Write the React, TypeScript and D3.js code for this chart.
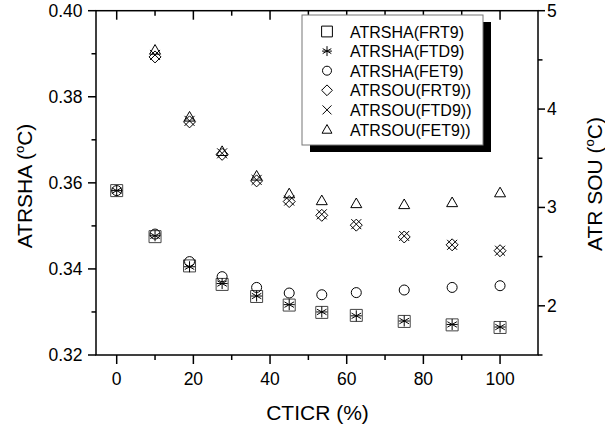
import React, { useEffect, useRef } from "react";
import * as d3 from "d3";

const xVals = [0, 10, 19, 27.5, 36.5, 45, 53.5, 62.5, 75, 87.5, 100];
const souX = xVals.slice(1);

const shaFRT9 = [0.3582, 0.3475, 0.3407, 0.3364, 0.3336, 0.3316, 0.3299, 0.3292, 0.3278, 0.327, 0.3264];
const shaFTD9 = [0.3582, 0.3477, 0.3405, 0.3366, 0.3337, 0.3317, 0.33, 0.3291, 0.3279, 0.3271, 0.3265];
const shaFET9 = [0.3582, 0.3481, 0.3417, 0.3382, 0.3357, 0.3344, 0.334, 0.3345, 0.3351, 0.3357, 0.3361];

const souFRT9 = [4.53, 3.87, 3.54, 3.27, 3.06, 2.92, 2.82, 2.7, 2.62, 2.56];
const souFTD9 = [4.55, 3.88, 3.55, 3.28, 3.07, 2.93, 2.83, 2.71, 2.62, 2.56];
const souFET9 = [4.6, 3.92, 3.57, 3.32, 3.14, 3.07, 3.04, 3.03, 3.05, 3.15];

const xTicks = [0, 20, 40, 60, 80, 100];
const xMinor = [10, 30, 50, 70, 90];
const leftTicks = [0.32, 0.34, 0.36, 0.38, 0.4];
const leftMinor = [0.33, 0.35, 0.37, 0.39];
const rightTicks = [2, 3, 4, 5];
const rightMinor = [1.5, 2.5, 3.5, 4.5];

const legendLabels = ["ATRSHA(FRT9)", "ATRSHA(FTD9)", "ATRSHA(FET9)", "ATRSOU(FRT9))", "ATRSOU(FTD9))", "ATRSOU(FET9))"];

const FONT = "'Liberation Sans', Arial, sans-serif";

// marker paths centred on 0,0
const marker = (kind: string, k = 1) => {
  const p = d3.path();
  if (kind === "square") {
    const h = 6 * k;
    p.rect(-h, -h, 2 * h, 2 * h);
  } else if (kind === "circle") {
    const r = 5 * k;
    p.moveTo(r, 0);
    p.arc(0, 0, r, 0, Math.PI * 2);
  } else if (kind === "diamond") {
    const h = 6 * k;
    p.moveTo(0, -h); p.lineTo(h, 0); p.lineTo(0, h); p.lineTo(-h, 0); p.closePath();
  } else if (kind === "triangle") {
    const h = 5.5 * k;
    p.moveTo(0, -h); p.lineTo(h, h * 0.75); p.lineTo(-h, h * 0.75); p.closePath();
  } else if (kind === "cross") {
    const h = 5 * k;
    p.moveTo(-h, -h); p.lineTo(h, h); p.moveTo(h, -h); p.lineTo(-h, h);
  } else if (kind === "star") {
    const r = 5.5 * k;
    for (let i = 0; i < 3; i++) {
      const a = Math.PI / 2 + (i * Math.PI) / 3;
      p.moveTo(r * Math.cos(a), r * Math.sin(a));
      p.lineTo(-r * Math.cos(a), -r * Math.sin(a));
    }
    p.moveTo(-r, 0); p.lineTo(r, 0);
  }
  return p.toString();
};

const App = () => {
  const ref = useRef<SVGSVGElement | null>(null);

  useEffect(() => {
    const left = 96, right = 538, top = 10.7, bottom = 355;
    const svg = d3.select(ref.current);
    svg.selectAll("*").remove();

    const x = d3.scaleLinear().domain([-5.4, 109.9]).range([left, right]);
    const yL = d3.scaleLinear().domain([0.32, 0.4]).range([bottom, top]);
    const yR = d3.scaleLinear().domain([1.5, 5]).range([bottom, top]);

    const g = svg.append("g").attr("font-family", FONT).attr("fill", "#000");

    // ticks
    const tick = (x1: number, y1: number, x2: number, y2: number) =>
      g.append("line").attr("x1", x1).attr("y1", y1).attr("x2", x2).attr("y2", y2)
        .attr("stroke", "#000").attr("stroke-width", 1.5);

    xTicks.forEach(v => { tick(x(v), bottom, x(v), bottom + 9); tick(x(v), top, x(v), top + 9); });
    xMinor.forEach(v => { tick(x(v), bottom, x(v), bottom + 5); tick(x(v), top, x(v), top + 5); });
    leftTicks.forEach(v => tick(left - 8, yL(v), left, yL(v)));
    leftMinor.forEach(v => tick(left - 4.5, yL(v), left, yL(v)));
    rightTicks.forEach(v => tick(right, yR(v), right + 7, yR(v)));
    rightMinor.forEach(v => tick(right, yR(v), right + 4.5, yR(v)));

    // frame
    g.append("rect").attr("x", left).attr("y", top).attr("width", right - left).attr("height", bottom - top)
      .attr("fill", "none").attr("stroke", "#000").attr("stroke-width", 1.5);

    // tick labels
    g.selectAll(".xl").data(xTicks).join("text")
      .attr("x", d => x(d)).attr("y", 385).attr("text-anchor", "middle").attr("font-size", 17.5)
      .text(d => d);
    g.selectAll(".ll").data(leftTicks).join("text")
      .attr("x", 82.5).attr("y", d => yL(d) + 6).attr("text-anchor", "end").attr("font-size", 17.5)
      .text(d => d3.format(".2f")(d));
    g.selectAll(".rl").data(rightTicks).join("text")
      .attr("x", 547).attr("y", d => yR(d) + 6).attr("text-anchor", "start").attr("font-size", 17.5)
      .text(d => d);

    // axis titles
    g.append("text").attr("x", 317.5).attr("y", 420).attr("text-anchor", "middle").attr("font-size", 21)
      .text("CTICR (%)");

    const degTitle = (tx: number, ty: number, label: string) => {
      const t = g.append("text").attr("transform", `translate(${tx},${ty}) rotate(-90)`)
        .attr("text-anchor", "middle").attr("font-size", 21);
      t.append("tspan").text(label + " (");
      t.append("tspan").attr("font-size", 13).attr("dy", -8).text("o");
      t.append("tspan").attr("dy", 8).text("C)");
    };
    degTitle(31.5, 186, "ATRSHA");
    degTitle(601.5, 184, "ATR SOU");

    // data
    const series = [
      { xs: xVals, ys: shaFRT9, y: yL, kind: "square", color: "#444" },
      { xs: xVals, ys: shaFTD9, y: yL, kind: "star", color: "#000" },
      { xs: xVals, ys: shaFET9, y: yL, kind: "circle", color: "#000" },
      { xs: souX, ys: souFRT9, y: yR, kind: "diamond", color: "#000" },
      { xs: souX, ys: souFTD9, y: yR, kind: "cross", color: "#000" },
      { xs: souX, ys: souFET9, y: yR, kind: "triangle", color: "#000" },
    ];

    series.forEach(s => {
      g.append("g").selectAll("path").data(s.ys).join("path")
        .attr("transform", (d, i) => `translate(${x(s.xs[i])},${s.y(d)})`)
        .attr("d", marker(s.kind))
        .attr("fill", "none").attr("stroke", s.color).attr("stroke-width", 1);
    });

    // legend
    const lx = 302, ly = 15, lw = 181, lh = 130;
    g.append("rect").attr("x", lx + 8).attr("y", ly + 7).attr("width", lw).attr("height", lh).attr("fill", "#000");
    g.append("rect").attr("x", lx).attr("y", ly).attr("width", lw).attr("height", lh)
      .attr("fill", "#fff").attr("stroke", "#777").attr("stroke-width", 1);

    legendLabels.forEach((lab, i) => {
      const cy = 31.5 + i * 19.6;
      g.append("path").attr("transform", `translate(327,${cy})`).attr("d", marker(series[i].kind, 0.9))
        .attr("fill", "none").attr("stroke", "#000").attr("stroke-width", 1);
      g.append("text").attr("x", 350).attr("y", cy + 6).attr("font-size", 16).text(lab);
    });
  }, []);

  return (
    <svg ref={ref} width={605} height={429}
      style={{ position: "absolute", left: 0, top: 0, background: "#fff" }} />
  );
};

export default App;
